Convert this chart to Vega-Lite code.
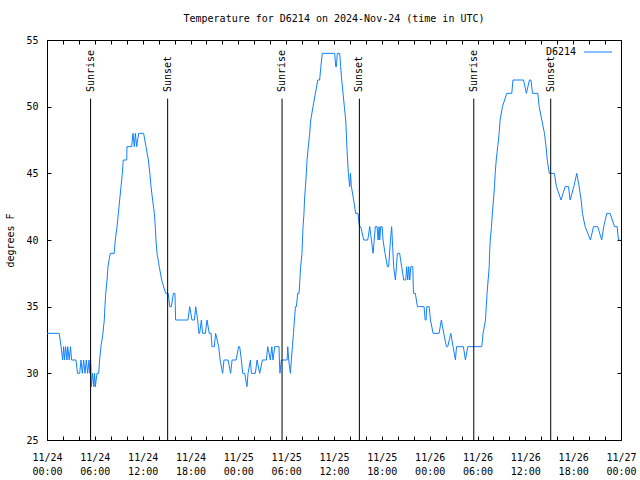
{
  "$schema": "https://vega.github.io/schema/vega-lite/v6.json",
  "width": 574,
  "height": 400,
  "autosize": "none",
  "padding": {"left": 47, "top": 40, "right": 19, "bottom": 40},
  "background": "white",
  "config": {
    "view": {"stroke": "black", "strokeWidth": 1},
    "font": "DejaVu Sans Mono",
    "axis": {"labelFont": "DejaVu Sans Mono", "labelFontSize": 10, "labelColor": "black", "tickColor": "black", "titleFont": "DejaVu Sans Mono", "titleFontSize": 10, "titleFontWeight": "normal", "titleColor": "black", "grid": false, "domain": false}
  },
  "title": {"text": "Temperature for D6214 on 2024-Nov-24 (time in UTC)", "font": "DejaVu Sans Mono", "fontSize": 10, "fontWeight": "normal", "color": "black", "anchor": "middle", "offset": 11},
  "datasets": {
    "temp": [
      {"t": "2024-11-24T00:00Z", "temp": 33}, {"t": "2024-11-24T01:32Z", "temp": 33}, {"t": "2024-11-24T01:46Z", "temp": 32}, {"t": "2024-11-24T01:58Z", "temp": 31},
      {"t": "2024-11-24T02:05Z", "temp": 32}, {"t": "2024-11-24T02:12Z", "temp": 31}, {"t": "2024-11-24T02:20Z", "temp": 32}, {"t": "2024-11-24T02:30Z", "temp": 31},
      {"t": "2024-11-24T02:36Z", "temp": 32}, {"t": "2024-11-24T02:47Z", "temp": 31}, {"t": "2024-11-24T02:57Z", "temp": 32}, {"t": "2024-11-24T03:05Z", "temp": 31},
      {"t": "2024-11-24T03:38Z", "temp": 31}, {"t": "2024-11-24T03:50Z", "temp": 30}, {"t": "2024-11-24T04:06Z", "temp": 30}, {"t": "2024-11-24T04:16Z", "temp": 31},
      {"t": "2024-11-24T04:26Z", "temp": 30}, {"t": "2024-11-24T04:36Z", "temp": 31}, {"t": "2024-11-24T04:46Z", "temp": 30}, {"t": "2024-11-24T04:56Z", "temp": 31},
      {"t": "2024-11-24T05:06Z", "temp": 30}, {"t": "2024-11-24T05:16Z", "temp": 31}, {"t": "2024-11-24T05:23Z", "temp": 30}, {"t": "2024-11-24T05:28Z", "temp": 31},
      {"t": "2024-11-24T05:34Z", "temp": 29}, {"t": "2024-11-24T05:43Z", "temp": 30}, {"t": "2024-11-24T05:53Z", "temp": 29}, {"t": "2024-11-24T05:58Z", "temp": 30},
      {"t": "2024-11-24T06:04Z", "temp": 29}, {"t": "2024-11-24T06:16Z", "temp": 30}, {"t": "2024-11-24T06:29Z", "temp": 30}, {"t": "2024-11-24T06:36Z", "temp": 31},
      {"t": "2024-11-24T06:46Z", "temp": 32}, {"t": "2024-11-24T07:01Z", "temp": 33}, {"t": "2024-11-24T07:11Z", "temp": 34}, {"t": "2024-11-24T07:16Z", "temp": 35},
      {"t": "2024-11-24T07:22Z", "temp": 36}, {"t": "2024-11-24T07:32Z", "temp": 37}, {"t": "2024-11-24T07:39Z", "temp": 38}, {"t": "2024-11-24T07:56Z", "temp": 39},
      {"t": "2024-11-24T08:26Z", "temp": 39}, {"t": "2024-11-24T08:34Z", "temp": 40}, {"t": "2024-11-24T08:47Z", "temp": 41}, {"t": "2024-11-24T08:57Z", "temp": 42},
      {"t": "2024-11-24T09:07Z", "temp": 43}, {"t": "2024-11-24T09:17Z", "temp": 44}, {"t": "2024-11-24T09:27Z", "temp": 45}, {"t": "2024-11-24T09:34Z", "temp": 46},
      {"t": "2024-11-24T10:00Z", "temp": 46}, {"t": "2024-11-24T10:02Z", "temp": 47}, {"t": "2024-11-24T10:37Z", "temp": 47}, {"t": "2024-11-24T10:47Z", "temp": 48},
      {"t": "2024-11-24T10:57Z", "temp": 47}, {"t": "2024-11-24T11:05Z", "temp": 48}, {"t": "2024-11-24T11:15Z", "temp": 47}, {"t": "2024-11-24T11:30Z", "temp": 48},
      {"t": "2024-11-24T12:07Z", "temp": 48}, {"t": "2024-11-24T12:25Z", "temp": 47}, {"t": "2024-11-24T12:43Z", "temp": 46}, {"t": "2024-11-24T12:54Z", "temp": 45},
      {"t": "2024-11-24T13:03Z", "temp": 44}, {"t": "2024-11-24T13:15Z", "temp": 43}, {"t": "2024-11-24T13:28Z", "temp": 42}, {"t": "2024-11-24T13:35Z", "temp": 41},
      {"t": "2024-11-24T13:40Z", "temp": 40}, {"t": "2024-11-24T13:48Z", "temp": 39}, {"t": "2024-11-24T14:05Z", "temp": 38}, {"t": "2024-11-24T14:23Z", "temp": 37},
      {"t": "2024-11-24T14:53Z", "temp": 36}, {"t": "2024-11-24T15:12Z", "temp": 36}, {"t": "2024-11-24T15:24Z", "temp": 35}, {"t": "2024-11-24T15:36Z", "temp": 35},
      {"t": "2024-11-24T15:51Z", "temp": 36}, {"t": "2024-11-24T16:03Z", "temp": 36}, {"t": "2024-11-24T16:08Z", "temp": 34}, {"t": "2024-11-24T17:41Z", "temp": 34},
      {"t": "2024-11-24T17:54Z", "temp": 35}, {"t": "2024-11-24T18:11Z", "temp": 34}, {"t": "2024-11-24T18:29Z", "temp": 34}, {"t": "2024-11-24T18:39Z", "temp": 35},
      {"t": "2024-11-24T18:54Z", "temp": 34}, {"t": "2024-11-24T19:03Z", "temp": 33}, {"t": "2024-11-24T19:09Z", "temp": 33}, {"t": "2024-11-24T19:22Z", "temp": 34},
      {"t": "2024-11-24T19:31Z", "temp": 33}, {"t": "2024-11-24T19:52Z", "temp": 33}, {"t": "2024-11-24T20:04Z", "temp": 34}, {"t": "2024-11-24T20:21Z", "temp": 33},
      {"t": "2024-11-24T20:35Z", "temp": 33}, {"t": "2024-11-24T20:42Z", "temp": 32}, {"t": "2024-11-24T20:59Z", "temp": 32}, {"t": "2024-11-24T21:09Z", "temp": 33},
      {"t": "2024-11-24T21:32Z", "temp": 32}, {"t": "2024-11-24T21:43Z", "temp": 31}, {"t": "2024-11-24T22:02Z", "temp": 30}, {"t": "2024-11-24T22:12Z", "temp": 31},
      {"t": "2024-11-24T22:43Z", "temp": 31}, {"t": "2024-11-24T23:02Z", "temp": 30}, {"t": "2024-11-24T23:13Z", "temp": 31}, {"t": "2024-11-24T23:43Z", "temp": 31},
      {"t": "2024-11-25T00:02Z", "temp": 32}, {"t": "2024-11-25T00:10Z", "temp": 32}, {"t": "2024-11-25T00:23Z", "temp": 31}, {"t": "2024-11-25T00:33Z", "temp": 30},
      {"t": "2024-11-25T00:48Z", "temp": 30}, {"t": "2024-11-25T01:05Z", "temp": 29}, {"t": "2024-11-25T01:13Z", "temp": 30}, {"t": "2024-11-25T01:31Z", "temp": 31},
      {"t": "2024-11-25T01:38Z", "temp": 30}, {"t": "2024-11-25T02:08Z", "temp": 30}, {"t": "2024-11-25T02:21Z", "temp": 31}, {"t": "2024-11-25T02:41Z", "temp": 30},
      {"t": "2024-11-25T03:01Z", "temp": 31}, {"t": "2024-11-25T03:31Z", "temp": 31}, {"t": "2024-11-25T03:41Z", "temp": 32}, {"t": "2024-11-25T04:01Z", "temp": 31},
      {"t": "2024-11-25T04:12Z", "temp": 32}, {"t": "2024-11-25T04:21Z", "temp": 31}, {"t": "2024-11-25T04:34Z", "temp": 32}, {"t": "2024-11-25T05:06Z", "temp": 32},
      {"t": "2024-11-25T05:09Z", "temp": 31}, {"t": "2024-11-25T05:13Z", "temp": 30}, {"t": "2024-11-25T05:24Z", "temp": 31}, {"t": "2024-11-25T06:07Z", "temp": 31},
      {"t": "2024-11-25T06:12Z", "temp": 32}, {"t": "2024-11-25T06:19Z", "temp": 31}, {"t": "2024-11-25T06:32Z", "temp": 30}, {"t": "2024-11-25T06:39Z", "temp": 31},
      {"t": "2024-11-25T06:47Z", "temp": 32}, {"t": "2024-11-25T06:55Z", "temp": 33}, {"t": "2024-11-25T07:02Z", "temp": 34}, {"t": "2024-11-25T07:10Z", "temp": 35},
      {"t": "2024-11-25T07:17Z", "temp": 35}, {"t": "2024-11-25T07:27Z", "temp": 36}, {"t": "2024-11-25T07:37Z", "temp": 36}, {"t": "2024-11-25T07:43Z", "temp": 37},
      {"t": "2024-11-25T07:49Z", "temp": 38}, {"t": "2024-11-25T07:59Z", "temp": 39}, {"t": "2024-11-25T08:03Z", "temp": 40}, {"t": "2024-11-25T08:07Z", "temp": 41},
      {"t": "2024-11-25T08:14Z", "temp": 42}, {"t": "2024-11-25T08:18Z", "temp": 43}, {"t": "2024-11-25T08:25Z", "temp": 44}, {"t": "2024-11-25T08:32Z", "temp": 45},
      {"t": "2024-11-25T08:37Z", "temp": 46}, {"t": "2024-11-25T08:47Z", "temp": 47}, {"t": "2024-11-25T08:57Z", "temp": 48}, {"t": "2024-11-25T09:05Z", "temp": 49},
      {"t": "2024-11-25T09:22Z", "temp": 50}, {"t": "2024-11-25T09:40Z", "temp": 51}, {"t": "2024-11-25T09:58Z", "temp": 52}, {"t": "2024-11-25T10:12Z", "temp": 52},
      {"t": "2024-11-25T10:21Z", "temp": 53}, {"t": "2024-11-25T10:32Z", "temp": 54}, {"t": "2024-11-25T12:05Z", "temp": 54}, {"t": "2024-11-25T12:13Z", "temp": 53},
      {"t": "2024-11-25T12:18Z", "temp": 53}, {"t": "2024-11-25T12:25Z", "temp": 54}, {"t": "2024-11-25T12:43Z", "temp": 54}, {"t": "2024-11-25T12:50Z", "temp": 53},
      {"t": "2024-11-25T12:58Z", "temp": 52}, {"t": "2024-11-25T13:08Z", "temp": 51}, {"t": "2024-11-25T13:18Z", "temp": 50}, {"t": "2024-11-25T13:28Z", "temp": 49},
      {"t": "2024-11-25T13:33Z", "temp": 48}, {"t": "2024-11-25T13:37Z", "temp": 47}, {"t": "2024-11-25T13:42Z", "temp": 46}, {"t": "2024-11-25T13:48Z", "temp": 45},
      {"t": "2024-11-25T13:58Z", "temp": 44}, {"t": "2024-11-25T14:04Z", "temp": 45}, {"t": "2024-11-25T14:11Z", "temp": 44}, {"t": "2024-11-25T14:28Z", "temp": 43},
      {"t": "2024-11-25T14:43Z", "temp": 42}, {"t": "2024-11-25T15:00Z", "temp": 42}, {"t": "2024-11-25T15:12Z", "temp": 41}, {"t": "2024-11-25T15:21Z", "temp": 41},
      {"t": "2024-11-25T15:44Z", "temp": 40}, {"t": "2024-11-25T16:14Z", "temp": 40}, {"t": "2024-11-25T16:29Z", "temp": 41}, {"t": "2024-11-25T16:54Z", "temp": 39},
      {"t": "2024-11-25T17:11Z", "temp": 41}, {"t": "2024-11-25T17:24Z", "temp": 41}, {"t": "2024-11-25T17:32Z", "temp": 40}, {"t": "2024-11-25T17:39Z", "temp": 41},
      {"t": "2024-11-25T17:44Z", "temp": 40}, {"t": "2024-11-25T17:52Z", "temp": 41}, {"t": "2024-11-25T18:02Z", "temp": 41}, {"t": "2024-11-25T18:09Z", "temp": 40},
      {"t": "2024-11-25T18:24Z", "temp": 39}, {"t": "2024-11-25T18:42Z", "temp": 38}, {"t": "2024-11-25T18:51Z", "temp": 38}, {"t": "2024-11-25T19:05Z", "temp": 40},
      {"t": "2024-11-25T19:14Z", "temp": 41}, {"t": "2024-11-25T19:19Z", "temp": 40}, {"t": "2024-11-25T19:29Z", "temp": 38}, {"t": "2024-11-25T19:42Z", "temp": 37},
      {"t": "2024-11-25T19:50Z", "temp": 38}, {"t": "2024-11-25T19:57Z", "temp": 39}, {"t": "2024-11-25T20:14Z", "temp": 39}, {"t": "2024-11-25T20:29Z", "temp": 38},
      {"t": "2024-11-25T20:45Z", "temp": 37}, {"t": "2024-11-25T21:00Z", "temp": 37}, {"t": "2024-11-25T21:07Z", "temp": 38}, {"t": "2024-11-25T21:15Z", "temp": 37},
      {"t": "2024-11-25T21:22Z", "temp": 38}, {"t": "2024-11-25T21:30Z", "temp": 37}, {"t": "2024-11-25T21:38Z", "temp": 38}, {"t": "2024-11-25T21:53Z", "temp": 38},
      {"t": "2024-11-25T21:58Z", "temp": 36}, {"t": "2024-11-25T22:12Z", "temp": 36}, {"t": "2024-11-25T22:28Z", "temp": 35}, {"t": "2024-11-25T23:18Z", "temp": 35},
      {"t": "2024-11-25T23:26Z", "temp": 34}, {"t": "2024-11-25T23:33Z", "temp": 34}, {"t": "2024-11-25T23:38Z", "temp": 35}, {"t": "2024-11-25T23:56Z", "temp": 35},
      {"t": "2024-11-26T00:06Z", "temp": 34}, {"t": "2024-11-26T00:26Z", "temp": 33}, {"t": "2024-11-26T01:11Z", "temp": 33}, {"t": "2024-11-26T01:28Z", "temp": 34},
      {"t": "2024-11-26T01:46Z", "temp": 33}, {"t": "2024-11-26T02:06Z", "temp": 32}, {"t": "2024-11-26T02:16Z", "temp": 32}, {"t": "2024-11-26T02:39Z", "temp": 33},
      {"t": "2024-11-26T02:56Z", "temp": 32}, {"t": "2024-11-26T03:14Z", "temp": 31}, {"t": "2024-11-26T03:22Z", "temp": 32}, {"t": "2024-11-26T04:14Z", "temp": 32},
      {"t": "2024-11-26T04:29Z", "temp": 31}, {"t": "2024-11-26T04:47Z", "temp": 32}, {"t": "2024-11-26T06:32Z", "temp": 32}, {"t": "2024-11-26T06:42Z", "temp": 33},
      {"t": "2024-11-26T07:00Z", "temp": 34}, {"t": "2024-11-26T07:06Z", "temp": 35}, {"t": "2024-11-26T07:12Z", "temp": 36}, {"t": "2024-11-26T07:20Z", "temp": 37},
      {"t": "2024-11-26T07:28Z", "temp": 38}, {"t": "2024-11-26T07:31Z", "temp": 39}, {"t": "2024-11-26T07:36Z", "temp": 40}, {"t": "2024-11-26T07:45Z", "temp": 41},
      {"t": "2024-11-26T07:52Z", "temp": 42}, {"t": "2024-11-26T08:00Z", "temp": 43}, {"t": "2024-11-26T08:08Z", "temp": 44}, {"t": "2024-11-26T08:13Z", "temp": 45},
      {"t": "2024-11-26T08:21Z", "temp": 46}, {"t": "2024-11-26T08:32Z", "temp": 47}, {"t": "2024-11-26T08:43Z", "temp": 48}, {"t": "2024-11-26T08:50Z", "temp": 49},
      {"t": "2024-11-26T09:08Z", "temp": 50}, {"t": "2024-11-26T09:40Z", "temp": 51}, {"t": "2024-11-26T10:18Z", "temp": 51}, {"t": "2024-11-26T10:27Z", "temp": 52},
      {"t": "2024-11-26T11:46Z", "temp": 52}, {"t": "2024-11-26T12:08Z", "temp": 51}, {"t": "2024-11-26T12:31Z", "temp": 52}, {"t": "2024-11-26T12:42Z", "temp": 52},
      {"t": "2024-11-26T12:54Z", "temp": 51}, {"t": "2024-11-26T13:34Z", "temp": 51}, {"t": "2024-11-26T13:44Z", "temp": 50}, {"t": "2024-11-26T14:04Z", "temp": 49},
      {"t": "2024-11-26T14:24Z", "temp": 48}, {"t": "2024-11-26T14:36Z", "temp": 47}, {"t": "2024-11-26T14:45Z", "temp": 46}, {"t": "2024-11-26T15:00Z", "temp": 45},
      {"t": "2024-11-26T15:39Z", "temp": 45}, {"t": "2024-11-26T15:54Z", "temp": 44}, {"t": "2024-11-26T16:29Z", "temp": 43}, {"t": "2024-11-26T16:59Z", "temp": 44},
      {"t": "2024-11-26T17:25Z", "temp": 44}, {"t": "2024-11-26T17:37Z", "temp": 43}, {"t": "2024-11-26T18:05Z", "temp": 44}, {"t": "2024-11-26T18:27Z", "temp": 45},
      {"t": "2024-11-26T18:45Z", "temp": 44}, {"t": "2024-11-26T19:00Z", "temp": 43}, {"t": "2024-11-26T19:10Z", "temp": 42}, {"t": "2024-11-26T19:30Z", "temp": 41},
      {"t": "2024-11-26T20:10Z", "temp": 40}, {"t": "2024-11-26T20:33Z", "temp": 41}, {"t": "2024-11-26T21:05Z", "temp": 41}, {"t": "2024-11-26T21:35Z", "temp": 40},
      {"t": "2024-11-26T21:50Z", "temp": 41}, {"t": "2024-11-26T22:13Z", "temp": 42}, {"t": "2024-11-26T22:38Z", "temp": 42}, {"t": "2024-11-26T23:11Z", "temp": 41},
      {"t": "2024-11-26T23:31Z", "temp": 41}, {"t": "2024-11-26T23:41Z", "temp": 40}, {"t": "2024-11-26T23:51Z", "temp": 40}
    ],
    "sun": [
      {"t": "2024-11-24T05:28Z", "label": "Sunrise"},
      {"t": "2024-11-24T15:08Z", "label": "Sunset"},
      {"t": "2024-11-25T05:29Z", "label": "Sunrise"},
      {"t": "2024-11-25T15:11Z", "label": "Sunset"},
      {"t": "2024-11-26T05:32Z", "label": "Sunrise"},
      {"t": "2024-11-26T15:11Z", "label": "Sunset"}
    ]
  },
  "layer": [
    {
      "data": {"name": "temp"},
      "mark": {"type": "line", "strokeWidth": 1},
      "encoding": {
        "x": {
          "field": "t", "type": "temporal",
          "scale": {"type": "utc", "domain": [1732406400000, 1732665600000], "nice": false},
          "axis": {"orient": "bottom", "title": null, "offset": -4,
            "values": [1732406400000, 1732413600000, 1732420800000, 1732428000000, 1732435200000, 1732442400000, 1732449600000, 1732456800000, 1732464000000, 1732471200000, 1732478400000, 1732485600000, 1732492800000, 1732500000000, 1732507200000, 1732514400000, 1732521600000, 1732528800000, 1732536000000, 1732543200000, 1732550400000, 1732557600000, 1732564800000, 1732572000000, 1732579200000, 1732586400000, 1732593600000, 1732600800000, 1732608000000, 1732615200000, 1732622400000, 1732629600000, 1732636800000, 1732644000000, 1732651200000, 1732658400000, 1732665600000],
            "labelExpr": "utchours(datum.value) % 6 == 0 ? [utcFormat(datum.value, '%m/%d'), utcFormat(datum.value, '%H:%M')] : ''",
            "labelOverlap": false, "labelFlush": false, "labelBound": false, "tickSize": 4, "labelPadding": 12, "labelLineHeight": 14}
        },
        "y": {
          "field": "temp", "type": "quantitative",
          "scale": {"domain": [25, 55], "nice": false, "zero": false},
          "axis": {"orient": "left", "title": "degrees F", "offset": -4, "values": [25, 30, 35, 40, 45, 50, 55], "tickSize": 4, "labelPadding": 9, "titlePadding": 10}
        },
        "color": {
          "datum": "D6214",
          "scale": {"range": ["#1080ff"]},
          "legend": {"title": null, "orient": "top-right", "offset": 7, "padding": 0, "symbolType": "M-4,0H4", "symbolSize": 49, "symbolStrokeWidth": 1, "labelAlign": "right", "labelOffset": -27, "labelFont": "DejaVu Sans Mono", "labelFontSize": 10, "labelColor": "black"}
        }
      }
    },
    {
      "data": {"name": "sun"},
      "mark": {"type": "rule", "color": "black", "strokeWidth": 1},
      "encoding": {
        "x": {"field": "t", "type": "temporal", "axis": {"orient": "top", "title": null, "labels": false, "offset": -4,
          "values": [1732406400000, 1732413600000, 1732420800000, 1732428000000, 1732435200000, 1732442400000, 1732449600000, 1732456800000, 1732464000000, 1732471200000, 1732478400000, 1732485600000, 1732492800000, 1732500000000, 1732507200000, 1732514400000, 1732521600000, 1732528800000, 1732536000000, 1732543200000, 1732550400000, 1732557600000, 1732564800000, 1732572000000, 1732579200000, 1732586400000, 1732593600000, 1732600800000, 1732608000000, 1732615200000, 1732622400000, 1732629600000, 1732636800000, 1732644000000, 1732651200000, 1732658400000, 1732665600000],
          "tickSize": 4}},
        "y": {"datum": 25, "type": "quantitative", "axis": {"orient": "right", "title": null, "labels": false, "offset": -4, "values": [25, 30, 35, 40, 45, 50, 55], "tickSize": 4}},
        "y2": {"datum": 50.6}
      }
    },
    {
      "data": {"name": "sun"},
      "mark": {"type": "text", "angle": 270, "align": "left", "baseline": "middle", "font": "DejaVu Sans Mono", "fontSize": 10, "color": "black"},
      "encoding": {
        "x": {"field": "t", "type": "temporal", "axis": null},
        "y": {"datum": 51.1, "type": "quantitative", "axis": null},
        "text": {"field": "label"}
      }
    }
  ],
  "resolve": {"axis": {"x": "independent", "y": "independent"}}
}
